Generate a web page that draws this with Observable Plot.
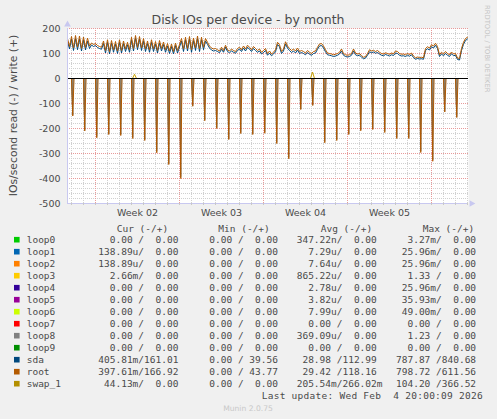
<!DOCTYPE html>
<html><head><meta charset="utf-8">
<script src="https://cdn.jsdelivr.net/npm/d3@7"></script>
<script src="https://cdn.jsdelivr.net/npm/@observablehq/plot@0.6"></script>
<style>
html,body{margin:0;padding:0;background:#F0F0F0;}
#wrap{position:relative;width:497px;height:419px;background:#F0F0F0;overflow:hidden}
#chart{position:absolute;left:0;top:0}
#overlay{position:absolute;left:0;top:0}
</style></head><body><div id="wrap"><div id="chart"></div></div>
<script>
// ---------- data ----------
const chartTitle = "Disk IOs per device - by month";
const yLabel = "IOs/second read (-) / write (+)";
const yTicks = [200, 100, 0, -100, -200, -300, -400, -500];
const weekLabels = ["Week 02", "Week 03", "Week 04", "Week 05"];
const weekMids = ["2026-01-08T12:00Z", "2026-01-15T12:00Z", "2026-01-22T12:00Z", "2026-01-29T12:00Z"];
const axisStart = "2026-01-02T16:00Z";
const axisEnd = "2026-02-05T02:00Z";
const writeStepHours = 4;

// write (+) series, one value every 4 hours from axisStart
const rootWrite = [
 160,128,168,122,172,126,170,120,166,124,162,130,
 142,136,140,132,128,125,
 150,112,155,108,152,115,148,110,155,112,150,118,145,115,
 165,120,172,125,168,122,160,118,
 150,115,155,118,148,112,152,120,146,115,
 140,110,138,108,142,112,136,
 160,118,165,120,168,115,162,122,170,118,165,125,160,
 145,130,122,118,120,
 115,110,125,112,133,115,110,118,112,108,
 120,125,115,130,118,133,125,115,128,120,112,118,
 105,112,120,100,110,98,105,115,
 145,135,108,118,147,130,120,112,
 118,110,122,108,112,
 108,102,112,105,100,108,110,
 125,138,140,130,115,
 102,100,98,95,97,100,
 105,118,100,95,93,95,
 100,118,102,98,100,
 92,85,88,100,
 115,110,113,108,112,105,
 100,98,103,100,97,102,99,
 110,108,100,97,
 98,95,100,96,
 102,90,83,86,84,85,83,
 120,127,122,135,130,141,128,
 95,105,98,108,100,95,106,98,100,
 82,80,120,145,160,165
];
const sdaWrite = [
 150,118,158,112,160,115,158,110,155,114,150,120,
 134,128,132,124,120,117,
 140,102,145,98,142,105,138,100,145,102,140,108,135,105,
 155,110,162,115,158,112,150,108,
 140,105,145,108,138,102,142,110,136,105,
 130,100,128,98,132,102,126,
 150,108,155,110,158,105,152,112,160,108,155,115,150,
 136,122,114,110,112,
 108,103,117,105,125,108,103,110,105,101,
 112,118,108,122,110,125,117,108,120,112,105,110,
 98,104,112,93,102,91,98,107,
 136,127,100,110,138,122,112,104,
 110,102,114,100,104,
 100,95,104,97,93,100,102,
 117,130,132,122,107,
 95,93,91,88,90,93,
 98,110,93,88,86,88,
 93,110,95,91,93,
 86,79,82,93,
 107,103,106,101,104,98,
 93,91,96,93,90,95,92,
 102,100,93,90,
 91,88,93,89,
 95,84,77,80,78,79,77,
 112,119,114,127,122,133,120,
 88,98,91,100,93,88,99,91,93,
 76,74,112,137,152,158
];

// read (-) daily spikes, one per day starting at readSpikeFirst
const readSpikeFirst = "2026-01-03T02:30Z";
const rootRead = [150,210,237,224,228,240,248,297,344,400,111,169,200,244,220,224,219,260,321,124,108,257,248,224,209,204,216,240,240,296,331,134,156];
const sdaRead  = [146,205,232,219,223,235,243,291,338,393,108,165,196,239,216,219,214,255,315,121,105,252,243,219,205,200,211,235,235,290,325,131,153];

// swap_1 write bumps
const swapWriteTimes = ["2026-01-08T06:00Z", "2026-01-23T02:00Z"];
const swapWriteValues = [17, 26];

// legend
const legendNames = ["loop0","loop1","loop2","loop3","loop4","loop5","loop6","loop7","loop8","loop9","sda","root","swap_1"];
const legendColors = ["#00CC00","#0066B3","#FF8000","#FFCC00","#330099","#990099","#CCFF00","#FF0000","#808080","#008F00","#00487D","#B35A00","#B38F00"];
const legendHeaders = ["Cur (-/+)","Min (-/+)","Avg (-/+)","Max (-/+)"];
const curCol = ["  0.00 /  0.00 ","138.89u/  0.00 ","138.89u/  0.00 ","  2.66m/  0.00 ","  0.00 /  0.00 ","  0.00 /  0.00 ","  0.00 /  0.00 ","  0.00 /  0.00 ","  0.00 /  0.00 ","  0.00 /  0.00 ","405.81m/161.01 ","397.61m/166.92 "," 44.13m/  0.00 "];
const minCol = ["  0.00 /  0.00 ","  0.00 /  0.00 ","  0.00 /  0.00 ","  0.00 /  0.00 ","  0.00 /  0.00 ","  0.00 /  0.00 ","  0.00 /  0.00 ","  0.00 /  0.00 ","  0.00 /  0.00 ","  0.00 /  0.00 ","  0.00 / 39.56 ","  0.00 / 43.77 ","  0.00 /  0.00 "];
const avgCol = ["347.22n/  0.00 ","  7.29u/  0.00 ","  7.64u/  0.00 ","865.22u/  0.00 ","  2.78u/  0.00 ","  3.82u/  0.00 ","  7.99u/  0.00 ","  0.00 /  0.00 ","369.09u/  0.00 ","  0.00 /  0.00 "," 28.98 /112.99 "," 29.42 /118.16 ","205.54m/266.02m"];
const maxCol = ["  3.27m/  0.00 "," 25.96m/  0.00 "," 25.96m/  0.00 ","  1.33 /  0.00 "," 25.96m/  0.00 "," 35.93m/  0.00 "," 49.00m/  0.00 ","  0.00 /  0.00 ","  1.23 /  0.00 ","  0.00 /  0.00 ","787.87 /840.68 ","798.72 /611.56 ","104.20 /366.52 "];
const lastUpdate = "Last update: Wed Feb  4 20:00:09 2026";
const footer = "Munin 2.0.75";
const watermark = "RRDTOOL / TOBI OETIKER";

// ---------- build tables ----------
const x0 = new Date(axisStart), x1 = new Date(axisEnd);
const toSeries = arr => arr.map((v, i) => ({t: d3.utcHour.offset(x0, i * writeStepHours), v}));
const rootW = toSeries(rootWrite), sdaW = toSeries(sdaWrite);
const dataEnd = rootW[rootW.length - 1].t;
function spikes(vals, before, after) {
  const pts = [{t: x0, v: 0}];
  vals.forEach((v, i) => {
    const t = d3.utcDay.offset(new Date(readSpikeFirst), i);
    pts.push({t: new Date(+t - before * 3600e3), v: 0}, {t, v: -v}, {t: new Date(+t + after * 3600e3), v: 0});
  });
  pts.push({t: dataEnd, v: 0});
  return pts;
}
const rootR = spikes(rootRead, 2.5, 2.5), sdaR = spikes(sdaRead, 2, 2);
const swapW = [{t: x0, v: 0}];
swapWriteTimes.forEach((s, i) => {
  const t = new Date(s);
  swapW.push({t: d3.utcHour.offset(t, -4), v: 0}, {t, v: swapWriteValues[i]}, {t: d3.utcHour.offset(t, 4), v: 0});
});
swapW.push({t: dataEnd, v: 0});

const days = d3.utcDay.range(d3.utcDay.ceil(x0), x1);
const mondays = d3.utcMonday.range(d3.utcMonday.ceil(x0), x1);
const minorY = d3.range(-500, 201, 20);
const majorY = d3.range(-500, 201, 100);
const axisCol = "#c8c8f0";

const chart = Plot.plot({
  width: 497, height: 225,
  marginTop: 28, marginLeft: 67, marginRight: 29, marginBottom: 22,
  x: {type: "utc", domain: [x0, x1]},
  y: {domain: [-500, 200]},
  style: {background: "transparent", fontFamily: "DejaVu Sans", fontSize: "9.5px", color: "#4a4a4a"},
  marks: [
    Plot.frame({fill: "#ffffff", stroke: null}),
    Plot.ruleY(minorY, {stroke: "#d0d0d0", strokeDasharray: "1,1"}),
    Plot.ruleX(days, {stroke: "#d0d0d0", strokeDasharray: "1,1"}),
    Plot.ruleY(majorY, {stroke: "#e89a9a", strokeDasharray: "1,1"}),
    Plot.ruleX(mondays, {stroke: "#e89a9a", strokeDasharray: "1,1"}),
    Plot.areaY(rootR, {x: "t", y: "v", fill: "#9a8466", fillOpacity: 0.9}),
    Plot.line(sdaR, {x: "t", y: "v", stroke: "#00487D", strokeWidth: 1, strokeOpacity: 0.5}),
    Plot.line(rootR, {x: "t", y: "v", stroke: "#B35A00", strokeWidth: 1}),
    Plot.line(swapW, {x: "t", y: "v", stroke: "#C8A000", strokeWidth: 1}),
    Plot.line(sdaW, {x: "t", y: "v", stroke: "#00487D", strokeWidth: 1}),
    Plot.line(rootW, {x: "t", y: "v", stroke: "#B35A00", strokeWidth: 1}),
    Plot.ruleY([0], {stroke: "#000000", strokeWidth: 1}),
    Plot.ruleX([x0], {stroke: axisCol}),
    Plot.ruleY([-500], {stroke: axisCol}),
    Plot.dot([{t: x0, v: 200}], {x: "t", y: "v", symbol: "triangle", r: 2.5, fill: axisCol, stroke: null, dy: -4}),
    Plot.dot([{t: x1, v: -500}], {x: "t", y: "v", symbol: "triangle", r: 2.5, fill: axisCol, stroke: null, dx: 3, rotate: 90}),
    Plot.axisY({ticks: yTicks, tickSize: 0, tickPadding: 7, tickFormat: d => String(d), label: null}),
    Plot.axisX({ticks: days, tickSize: 2, tickFormat: () => "", stroke: "#c8c8c8", label: null}),
    Plot.axisX({ticks: weekMids.map(s => new Date(s)), tickSize: 0, tickPadding: 6, tickFormat: (d, i) => weekLabels[i], label: null})
  ]
});
document.getElementById("chart").appendChild(chart);

// ---------- overlay texts & legend ----------
const nb = s => s.replace(/ /g, "\u00A0");
const svg = d3.select("#wrap").append("svg").attr("id", "overlay")
  .attr("width", 497).attr("height", 419)
  .style("font-family", "DejaVu Sans").style("fill", "#4a4a4a");
svg.append("text").attr("x", 248).attr("y", 24).attr("text-anchor", "middle")
  .style("font-size", "12.5px").text(chartTitle);
svg.append("text").attr("transform", "translate(17,115.5) rotate(-90)").attr("text-anchor", "middle")
  .style("font-size", "10.8px").text(yLabel);
svg.append("text").attr("transform", "translate(485,5) rotate(90)").attr("text-anchor", "start")
  .style("font-size", "6.8px").style("fill", "#c4c4c4").text(watermark);

const mono = "DejaVu Sans Mono";
const colX = [98.3, 197.9, 296.7, 396];
const headX = [116.7, 218.3, 320.7, 422.7];
const leg = svg.append("g").style("font-family", mono).style("font-size", "9.5px");
legendHeaders.forEach((h, i) => leg.append("text").attr("x", headX[i]).attr("y", 231.8).text(nb(h)));
const cols = [curCol, minCol, avgCol, maxCol];
legendNames.forEach((n, r) => {
  const cy = 239.7 + 12 * r;
  leg.append("rect").attr("x", 14).attr("y", cy - 2.8).attr("width", 5.6).attr("height", 5.6).style("fill", legendColors[r]);
  leg.append("text").attr("x", 26.7).attr("y", cy + 3.5).text(n);
  cols.forEach((c, j) => leg.append("text").attr("x", colX[j]).attr("y", cy + 3.5).text(nb(c[r])));
});
leg.append("text").attr("x", 261.7).attr("y", 399.2).attr("textLength", 221).attr("lengthAdjust", "spacing").text(nb(lastUpdate));
svg.append("text").attr("x", 248).attr("y", 411).attr("text-anchor", "middle")
  .style("font-size", "7.6px").style("fill", "#c8c8c8").text(footer);
</script></body></html>
